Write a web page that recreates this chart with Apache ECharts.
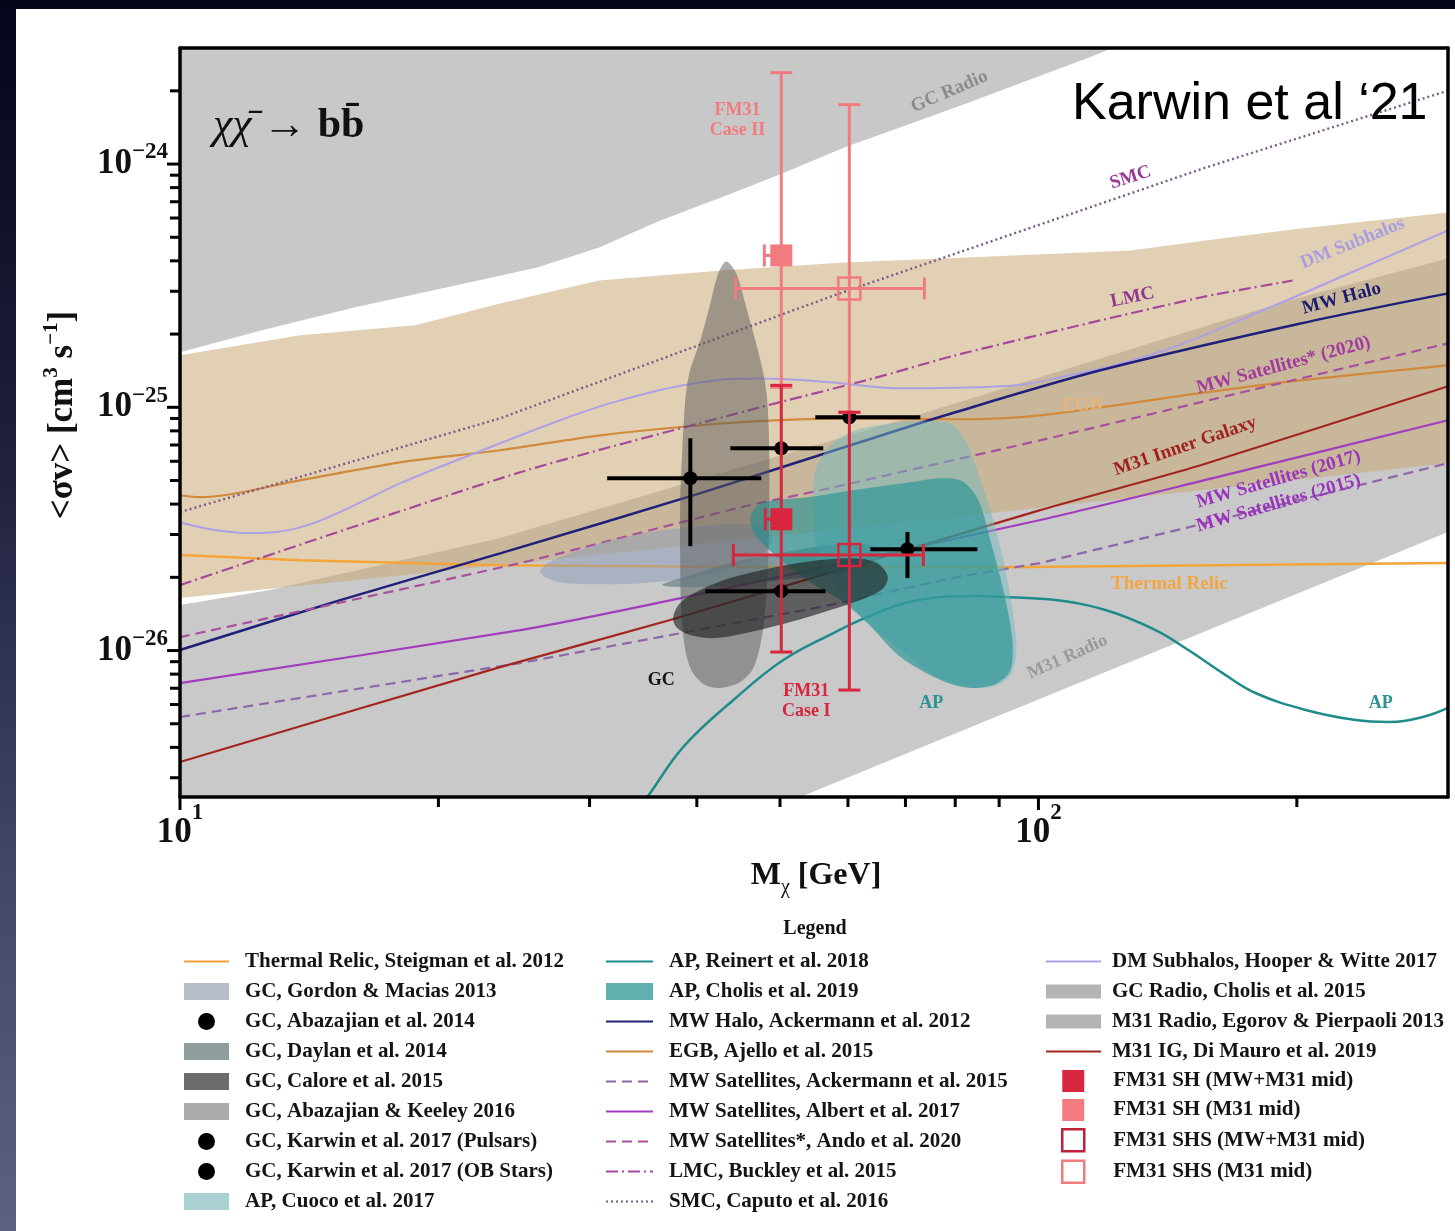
<!DOCTYPE html>
<html>
<head>
<meta charset="utf-8">
<title>Dark matter annihilation into b b̄: cross-section limits and signal regions</title>
<script src="https://cdn.jsdelivr.net/npm/echarts@6.0.0/dist/echarts.min.js"></script>
<style>
  html, body { margin: 0; padding: 0; }
  body {
    width: 1455px; height: 1231px; overflow: hidden; position: relative;
    background: linear-gradient(180deg, #05051a 0%, #1c1e3b 35%, #474a6b 75%, #5d6081 100%);
  }
  #panel { position: absolute; left: 16px; top: 9px; right: 0; bottom: 0; background: #fff; }
  #chart { position: absolute; left: 0; top: 0; width: 1455px; height: 1231px; }
</style>
</head>
<body>
<div id="panel"></div>
<div id="chart"></div>
<script>
// ---------------------------------------------------------------------------
// Values: dark-matter mass in GeV, <σv> in units of 1e-26 cm^3 s^-1
// ---------------------------------------------------------------------------
const U = 1e-26;
const X_MIN = 10, X_MAX = 300;
const Y_MIN = 2.5e-27, Y_MAX = 3e-24;

// axis tick positions (GeV, and 1e-26 cm^3/s)
const xTickValues = [10, 20, 30, 40, 50, 60, 70, 80, 90, 100, 200];
const yTickValues = [0.3, 0.4, 0.5, 0.6, 0.7, 0.8, 0.9, 1, 2, 3, 4, 5, 6, 7, 8, 9,
                     10, 20, 30, 40, 50, 60, 70, 80, 90, 100, 200];

// limit curves
const thermalRelic = [[10, 2.47], [13.8, 2.35], [23.6, 2.24], [52.8, 2.20], [90.3, 2.20], [300, 2.29]];
const egbLine = [[10, 4.35], [10.55, 4.27], [13.8, 5.01], [18.05, 5.94], [23.6, 6.66], [30.9, 7.67],
                 [40.4, 8.44], [50, 8.85], [60.4, 9.01], [80, 8.93], [100.5, 9.27], [156.6, 11.52],
                 [202, 12.91], [300, 14.88]];
const dmSubhalos = [[10, 3.37], [10.98, 3.13], [12.07, 3.04], [13.8, 3.21], [15.78, 3.88], [18.05, 4.87],
                    [22.98, 6.85], [27.73, 8.85], [32.57, 10.68], [40.4, 12.67], [47.4, 13.15],
                    [57.24, 12.67], [69.1, 11.97], [90.3, 12.2], [104.7, 13.15], [136.9, 16.67],
                    [179.0, 24.3], [234.2, 36.5], [300, 53.3]];
const mwHalo = [[10, 1.005], [15.37, 1.612], [23.6, 2.51], [40.4, 4.44], [60.4, 6.98], [80, 9.54],
                [118.1, 14.19], [202, 22.1], [300, 29.4]];
const mwSat2015 = [[10, 0.533], [24.91, 0.888], [55.7, 1.509], [80, 2.0], [100.5, 2.29], [149.5, 3.21], [300, 5.89]];
const mwSat2017 = [[10, 0.735], [24.91, 1.214], [38.3, 1.643], [100.5, 3.44], [154.5, 4.97], [300, 8.85]];
const mwSat2020 = [[10, 1.136], [24.91, 2.29], [44.96, 3.88], [55.7, 4.56], [100.5, 7.32], [176.6, 11.74], [300, 18.32]];
const m31InnerGalaxy = [[10, 0.348], [23.6, 0.855], [37.25, 1.335], [100.5, 3.78], [154.5, 5.78], [300, 12.2]];
const lmc = [[10, 1.858], [24.91, 5.41], [47.4, 10.0], [64.22, 13.15], [80, 16.35], [118.1, 22.77],
             [156.6, 28.57], [197.7, 33.2]];
const smc = [[10, 3.71], [23.6, 9.01], [57.7, 28.8], [156.6, 96.7], [300, 200.4]];
const apReinert = [[33.9, 0.217], [35.03, 0.25], [38.58, 0.402], [44.12, 0.626], [50.44, 0.914], [57.7, 1.18],
                   [63.19, 1.373], [72.28, 1.612], [85.6, 1.675], [91.5, 1.659], [104.7, 1.612], [119.7, 1.467],
                   [136.9, 1.214], [149.5, 1.005], [163.9, 0.808], [179.0, 0.669], [204.8, 0.570],
                   [234.2, 0.518], [255.8, 0.509], [280.3, 0.533], [300, 0.581]];

// bands (lower / upper edges)
const gcRadioLower = [[10, 16.82], [12.46, 20.72], [15.95, 25.75], [20.42, 31.1], [26.07, 37.6], [30.78, 45.4],
                      [36.26, 58.6], [42.7, 72.9], [50.3, 91.4], [59.4, 116.9], [70.0, 143.9], [82.4, 177.3],
                      [97.1, 220.3], [114.4, 273.7], [128.0, 321.5]];
const gcRadioUpper = [[10, 1000], [300, 1000]];
const m31RadioUpper = [[10, 1.538], [12.73, 1.772], [23.6, 2.90], [69.1, 8.85], [195.6, 27.5], [300, 40.9]];
const m31RadioLower = [[10, 0.1], [40.4, 0.17], [52.8, 0.25], [90.3, 0.543], [300, 3.07]];
const egbBandUpper = [[10, 16.35], [13.8, 19.76], [18.79, 21.72], [23.6, 26.74], [30.78, 33.2], [42.7, 36.5],
                      [59.4, 39.4], [82.4, 41.3], [128.0, 44.15], [156.6, 48.5], [202, 54.3], [300, 63.2]];
const egbBandLower = [[10, 1.643], [23.6, 2.24], [90.3, 3.71], [300, 5.89]];

// signal regions (closed outlines)
const gcGordonMacias = [[26.28, 2.101], [26.85, 2.29], [28.48, 2.51], [30.86, 2.764], [35.31, 3.07], [40.37, 3.246],
                        [44.95, 3.308], [48.06, 3.185], [48.97, 2.843], [47.42, 2.47], [43.76, 2.182],
                        [39.31, 1.985], [34.37, 1.893], [30.05, 1.875], [27.36, 1.929]];
const gcDaylan = [[36.46, 1.858], [39.31, 2.04], [43.76, 2.29], [50.03, 2.51], [57.24, 2.713], [63.71, 2.713],
                  [65.44, 2.47], [62.03, 2.20], [55.72, 2.04], [47.42, 1.911], [40.37, 1.823]];
const gcCalore = [[37.55, 1.373], [38.26, 1.567], [40.37, 1.772], [43.76, 1.985], [48.71, 2.182], [54.24, 2.331],
                  [60.38, 2.398], [64.57, 2.309], [66.69, 2.04], [65.98, 1.806], [62.87, 1.643], [57.24, 1.467],
                  [51.40, 1.309], [46.17, 1.191], [42.03, 1.125], [39.31, 1.158], [37.85, 1.249]];
const gcAbazajianKeeley = [[43.29, 39.79], [42.37, 35.51], [41.36, 25.75], [40.37, 18.85], [39.20, 13.79],
                           [38.78, 10.68], [38.47, 6.66], [38.26, 4.15], [38.26, 2.35], [38.36, 1.467],
                           [38.78, 1.005], [39.52, 0.816], [40.92, 0.721], [42.60, 0.702], [44.71, 0.735],
                           [46.42, 0.832], [47.42, 1.053], [48.06, 1.467], [48.45, 2.35], [48.58, 4.15],
                           [48.58, 6.66], [48.32, 10.68], [47.81, 13.79], [46.79, 18.85], [45.68, 25.75],
                           [44.47, 35.51]];
const apCuoco = [[54.68, 4.15], [54.97, 5.51], [57.24, 6.98], [61.19, 8.04], [66.41, 8.51], [72.86, 8.76],
                 [78.96, 8.60], [82.19, 7.32], [84.43, 5.78], [87.89, 3.78], [91.02, 2.35], [93.26, 1.467],
                 [94.27, 1.005], [92.76, 0.793], [89.08, 0.715], [84.43, 0.702], [78.96, 0.735], [73.85, 0.832],
                 [69.06, 1.005], [63.71, 1.273], [59.58, 1.612], [56.48, 2.14], [54.97, 2.843]];
const apCholis = [[46.17, 3.535], [47.17, 3.96], [49.36, 4.15], [53.80, 4.27], [58.79, 4.48], [64.22, 4.69],
                  [70.93, 4.92], [76.88, 5.11], [81.54, 4.97], [85.12, 4.15], [87.89, 2.843], [91.02, 1.772],
                  [93.26, 1.104], [92.76, 0.832], [89.08, 0.728], [83.31, 0.702], [76.88, 0.757], [69.06, 0.940],
                  [63.19, 1.297], [58.79, 1.612], [53.80, 1.947], [49.10, 2.51], [46.79, 2.98]];

// best-fit points: [mass, <σv>, mass low, mass high, <σv> low, <σv> high]
const gcAbazajian2014 = [[39.31, 5.11, 31.45, 47.55, 2.686, 7.46]];
const gcKarwinPulsars = [[50.17, 6.785, 43.76, 56.15, 6.785, 6.785],
                         [50.17, 1.755, 40.92, 56.48, 1.755, 1.755]];
const gcKarwinOBStars = [[60.22, 9.10, 54.97, 72.86, 9.10, 9.10],
                         [70.38, 2.611, 63.71, 84.89, 1.985, 3.07]];
const fm31ShMwM31 = [[50.17, 3.467, 48.06, 50.17, 0.986, 12.31]];
const fm31ShM31 = [[50.17, 42.1, 47.94, 50.17, 12.08, 237.6]];
const fm31ShsMwM31 = [[60.22, 2.47, 44.12, 73.45, 0.688, 9.54]];
const fm31ShsM31 = [[60.22, 30.8, 44.4, 73.65, 9.54, 175.5]];

// ---------------------------------------------------------------------------
const FONT = '"Liberation Serif", "Times New Roman", Times, serif';
const scale = pts => pts.map(([m, s]) => [m, s * U]);
const isDecade = v => Math.abs(Math.log10(v) - Math.round(Math.log10(v))) < 1e-6;

// in-plot curve labels, anchored in data space
const notes = [
  { text: 'GC Radio', m: 78.75, s: 198.5, rot: 23, color: '#8c8c8c', size: 19 },
  { text: 'FM31\nCase II', m: 44.6, s: 150.9, rot: 0, color: '#f07c80', size: 18 },
  { text: 'SMC', m: 128, s: 88.0, rot: 18, color: '#963a96', size: 19 },
  { text: 'DM Subhalos', m: 232.3, s: 47.2, rot: 22, color: '#a99fe0', size: 19 },
  { text: 'LMC', m: 128.7, s: 28.3, rot: 12, color: '#8e3a8e', size: 19 },
  { text: 'MW Halo', m: 225.5, s: 28.0, rot: 15, color: '#1c1c6c', size: 19 },
  { text: 'MW Satellites* (2020)', m: 193.0, s: 14.88, rot: 15, color: '#a23aa0', size: 19 },
  { text: 'EGB', m: 112.5, s: 10.19, rot: 4, color: '#e5b57e', size: 19 },
  { text: 'M31 Inner Galaxy', m: 148.3, s: 6.92, rot: 19, color: '#a01f1f', size: 19 },
  { text: 'MW Satellites (2017)', m: 190.4, s: 5.06, rot: 16, color: '#9b33bd', size: 19 },
  { text: 'MW Satellites (2015)', m: 190.4, s: 4.03, rot: 16, color: '#9b33bd', size: 19 },
  { text: 'Thermal Relic', m: 142.1, s: 1.875, rot: 0, color: '#f2a640', size: 19 },
  { text: 'M31 Radio', m: 108.1, s: 0.94, rot: 24, color: '#9a9a9a', size: 18 },
  { text: 'AP', m: 250.4, s: 0.609, rot: 0, color: '#2a9494', size: 18 },
  { text: 'AP', m: 75.0, s: 0.609, rot: 0, color: '#2a9494', size: 18 },
  { text: 'GC', m: 36.36, s: 0.757, rot: 0, color: '#111111', size: 18 },
  { text: 'FM31\nCase I', m: 53.66, s: 0.62, rot: 0, color: '#d7263d', size: 18 }
];

function areaSeries(name, outline, fill, z, smooth) {
  const pts = scale(outline);
  return {
    type: 'custom', name, z, silent: true, clip: true,
    coordinateSystem: 'cartesian2d',
    itemStyle: { color: fill },
    data: [pts[0]],
    renderItem: (params, api) => ({
      type: 'polygon',
      shape: { points: pts.map(p => api.coord(p)), smooth: smooth || 0 },
      style: { fill: fill }
    })
  };
}

function bandSeries(name, lower, upper, fill, z) {
  return areaSeries(name, lower.concat(upper.slice().reverse()), fill, z, 0);
}

function curveSeries(name, pts, color, width, type, smooth) {
  return {
    type: 'line', name, z: 3, silent: true, symbol: 'none', showSymbol: false,
    smooth: smooth || false, clip: true,
    lineStyle: { color, width, type: type || 'solid' },
    itemStyle: { color },
    emphasis: { disabled: true },
    data: scale(pts)
  };
}

function errorSeries(name, rows, look) {
  return {
    type: 'custom', name, z: look.z, silent: true, coordinateSystem: 'cartesian2d',
    itemStyle: { color: look.color },
    encode: { x: 0, y: 1 },
    data: rows.map(r => [r[0], r[1] * U, r[2], r[3], r[4] * U, r[5] * U]),
    renderItem: (params, api) => {
      const m = api.value(0), s = api.value(1);
      const c = api.coord([m, s]);
      const xl = api.coord([api.value(2), s])[0];
      const xr = api.coord([api.value(3), s])[0];
      const yl = api.coord([m, api.value(4)])[1];
      const yh = api.coord([m, api.value(5)])[1];
      const st = { stroke: look.color, lineWidth: look.width };
      const kids = [];
      const seg = (x1, y1, x2, y2) => kids.push({ type: 'line', shape: { x1, y1, x2, y2 }, style: st });
      const cap = look.cap;
      if (Math.abs(xl - c[0]) > 1) { seg(xl, c[1], c[0], c[1]); if (cap) seg(xl, c[1] - cap, xl, c[1] + cap); }
      if (Math.abs(xr - c[0]) > 1) { seg(c[0], c[1], xr, c[1]); if (cap) seg(xr, c[1] - cap, xr, c[1] + cap); }
      if (Math.abs(yl - c[1]) > 1) { seg(c[0], c[1], c[0], yl); if (cap) seg(c[0] - cap, yl, c[0] + cap, yl); }
      if (Math.abs(yh - c[1]) > 1) { seg(c[0], c[1], c[0], yh); if (cap) seg(c[0] - cap, yh, c[0] + cap, yh); }
      if (look.marker === 'dot') {
        kids.push({ type: 'circle', shape: { cx: c[0], cy: c[1], r: 7 }, style: { fill: look.color } });
      } else if (look.marker === 'filled') {
        kids.push({ type: 'rect', shape: { x: c[0] - 11, y: c[1] - 11, width: 22, height: 22 }, style: { fill: look.color } });
      } else if (look.marker === 'open') {
        kids.push({ type: 'rect', shape: { x: c[0] - 11, y: c[1] - 11, width: 22, height: 22 },
                    style: { fill: 'none', stroke: look.color, lineWidth: 2.5 } });
      }
      return { type: 'group', children: kids };
    }
  };
}

function powLabel(value) {
  if (!isDecade(value)) return '';
  const n = Math.round(Math.log10(value));
  return '{b|10}{e|' + (n < 0 ? '\u2212' + (-n) : n) + '}';
}

const black = { z: 6, color: '#000', width: 4, cap: 0, marker: 'dot' };
const caseI = { z: 8, color: '#d7263d', width: 3, cap: 11 };
const caseII = { z: 7, color: '#f27b80', width: 3, cap: 11 };

const series = [
  // background bands
  bandSeries('GC Radio, Cholis et al. 2015', gcRadioLower, gcRadioUpper, '#c8c8c8', 1),
  bandSeries('M31 Radio, Egorov & Pierpaoli 2013', m31RadioLower, m31RadioUpper, '#c9c9c9', 1),
  bandSeries('EGB band', egbBandLower, egbBandUpper, 'rgba(200,166,114,0.53)', 2),

  // limit curves
  curveSeries('Thermal Relic, Steigman et al. 2012', thermalRelic, '#f3a43a', 2.5),
  curveSeries('EGB, Ajello et al. 2015', egbLine, '#d18a3c', 2.2, 'solid', 0.3),
  curveSeries('DM Subhalos, Hooper & Witte 2017', dmSubhalos, '#ada1e6', 2, 'solid', 0.4),
  curveSeries('MW Halo, Ackermann et al. 2012', mwHalo, '#20207a', 2.5, 'solid', 0.3),
  curveSeries('MW Satellites, Ackermann et al. 2015', mwSat2015, '#8e67a8', 2.2, [10, 6]),
  curveSeries('MW Satellites, Albert et al. 2017', mwSat2017, '#a23dbd', 2.2, 'solid', 0.2),
  curveSeries('MW Satellites*, Ando et al. 2020', mwSat2020, '#a8509c', 2.2, [10, 6], 0.2),
  curveSeries('LMC, Buckley et al. 2015', lmc, '#a8489c', 2.2, [12, 4, 2, 4], 0.2),
  curveSeries('SMC, Caputo et al. 2016', smc, '#7e5a88', 2.4, [2, 3]),
  curveSeries('M31 IG, Di Mauro et al. 2019', m31InnerGalaxy, '#a3261e', 2.2, 'solid', 0.2),
  curveSeries('AP, Reinert et al. 2018', apReinert, '#1f8c8c', 2.5, 'solid', 0.4),

  // signal regions
  areaSeries('GC, Gordon & Macias 2013', gcGordonMacias, 'rgba(140,155,185,0.5)', 4, 0.35),
  areaSeries('GC, Abazajian & Keeley 2016', gcAbazajianKeeley, 'rgba(90,90,90,0.5)', 4, 0.3),
  areaSeries('GC, Daylan et al. 2014', gcDaylan, 'rgba(90,120,125,0.6)', 4, 0.35),
  areaSeries('AP, Cuoco et al. 2017', apCuoco, 'rgba(115,185,190,0.5)', 4, 0.3),
  areaSeries('AP, Cholis et al. 2019', apCholis, 'rgba(30,145,145,0.6)', 4, 0.3),
  areaSeries('GC, Calore et al. 2015', gcCalore, 'rgba(30,30,30,0.62)', 4, 0.35),

  // best-fit points
  errorSeries('GC, Abazajian et al. 2014', gcAbazajian2014, black),
  errorSeries('GC, Karwin et al. 2017 (Pulsars)', gcKarwinPulsars, black),
  errorSeries('GC, Karwin et al. 2017 (OB Stars)', gcKarwinOBStars, black),
  errorSeries('FM31 SH (M31 mid)', fm31ShM31, Object.assign({ marker: 'filled' }, caseII)),
  errorSeries('FM31 SHS (M31 mid)', fm31ShsM31, Object.assign({ marker: 'open' }, caseII)),
  errorSeries('FM31 SH (MW+M31 mid)', fm31ShMwM31, Object.assign({ marker: 'filled' }, caseI)),
  errorSeries('FM31 SHS (MW+M31 mid)', fm31ShsMwM31, Object.assign({ marker: 'open' }, caseI)),

  // curve labels
  {
    type: 'custom', name: 'curve labels', z: 9, silent: true, coordinateSystem: 'cartesian2d',
    data: notes.map(n => [n.m, n.s * U]),
    renderItem: (params, api) => {
      const n = notes[params.dataIndex];
      const p = api.coord([api.value(0), api.value(1)]);
      return {
        type: 'text', x: p[0], y: p[1], rotation: n.rot * Math.PI / 180,
        style: {
          text: n.text, fill: n.color, font: 'bold ' + n.size + 'px ' + FONT,
          align: 'center', verticalAlign: 'middle', lineHeight: n.size + 2
        }
      };
    }
  },

  // tick marks on the bottom and left axes
  {
    type: 'custom', name: 'x ticks', z: 11, silent: true, clip: false, coordinateSystem: 'cartesian2d',
    data: xTickValues.map(v => [v, Y_MIN]),
    renderItem: (params, api) => {
      const p = api.coord([api.value(0), api.value(1)]);
      const len = isDecade(api.value(0)) ? 13 : 10;
      return { type: 'line', shape: { x1: p[0], y1: p[1], x2: p[0], y2: p[1] + len },
               style: { stroke: '#000', lineWidth: 3 } };
    }
  },
  {
    type: 'custom', name: 'y ticks', z: 11, silent: true, clip: false, coordinateSystem: 'cartesian2d',
    data: yTickValues.map(v => [X_MIN, v * U]),
    renderItem: (params, api) => {
      const p = api.coord([api.value(0), api.value(1)]);
      const len = isDecade(api.value(1)) ? 13 : 10;
      return { type: 'line', shape: { x1: p[0] - len, y1: p[1], x2: p[0], y2: p[1] },
               style: { stroke: '#000', lineWidth: 3 } };
    }
  }
];

const legendText = { fontFamily: FONT, fontWeight: 'bold', fontSize: 21, color: '#141414', lineHeight: 20 };
function legendBox(left, top, w, h, gap, pad, data) {
  return {
    orient: 'vertical', left, top, itemWidth: w, itemHeight: h, itemGap: gap,
    selectedMode: false, padding: 0,
    textStyle: Object.assign({ padding: [0, 0, 0, pad] }, legendText),
    data
  };
}
// line entries: show only the stroke, no marker on it
const stroke = name => ({ name, itemStyle: { color: 'rgba(0,0,0,0)', borderWidth: 0, opacity: 0 } });
const dot = name => ({ name, icon: 'circle', itemStyle: { color: '#000' } });
const swatch = (name, color) => ({ name, icon: 'rect', itemStyle: { color } });

const axisLineStyle = { show: true, onZero: false, lineStyle: { color: '#000', width: 3.5 } };
const labelRich = (lh) => ({
  b: { fontFamily: FONT, fontWeight: 'bold', fontSize: 35, lineHeight: lh, color: '#111' },
  e: { fontFamily: FONT, fontWeight: 'bold', fontSize: 23, lineHeight: 23, verticalAlign: 'top', color: '#111' }
});

const option = {
  backgroundColor: 'transparent',
  animation: false,
  grid: { left: 180, right: 7, top: 48, bottom: 434, containLabel: false, outerBoundsMode: 'none' },
  xAxis: [
    {
      type: 'log', logBase: 10, min: X_MIN, max: X_MAX, position: 'bottom', z: 10,
      axisLine: axisLineStyle, axisTick: { show: false }, splitLine: { show: false },
      minorTick: { show: false }, minorSplitLine: { show: false },
      axisLabel: { margin: 5, formatter: powLabel, rich: labelRich(61) }
    },
    {
      type: 'log', logBase: 10, min: X_MIN, max: X_MAX, position: 'top', z: 10,
      axisLine: axisLineStyle, axisTick: { show: false }, axisLabel: { show: false },
      splitLine: { show: false }
    }
  ],
  yAxis: [
    {
      type: 'log', logBase: 10, min: Y_MIN, max: Y_MAX, position: 'left', z: 10,
      axisLine: axisLineStyle, axisTick: { show: false }, splitLine: { show: false },
      minorTick: { show: false }, minorSplitLine: { show: false },
      axisLabel: { margin: 12, formatter: powLabel, rich: labelRich(46) }
    },
    {
      type: 'log', logBase: 10, min: Y_MIN, max: Y_MAX, position: 'right', z: 10,
      axisLine: axisLineStyle, axisTick: { show: false }, axisLabel: { show: false },
      splitLine: { show: false }
    }
  ],
  legend: [
    legendBox(183, 951, 45, 17, 9, 11, [
      stroke('Thermal Relic, Steigman et al. 2012'),
      swatch('GC, Gordon & Macias 2013', '#b6bdc9'),
      dot('GC, Abazajian et al. 2014'),
      swatch('GC, Daylan et al. 2014', '#909d9e'),
      swatch('GC, Calore et al. 2015', '#6c6c6c'),
      swatch('GC, Abazajian & Keeley 2016', '#ababab'),
      dot('GC, Karwin et al. 2017 (Pulsars)'),
      dot('GC, Karwin et al. 2017 (OB Stars)'),
      swatch('AP, Cuoco et al. 2017', '#a9d1d2')
    ]),
    legendBox(605, 951, 47, 17, 9, 11, [
      stroke('AP, Reinert et al. 2018'),
      swatch('AP, Cholis et al. 2019', '#62b1b1'),
      stroke('MW Halo, Ackermann et al. 2012'),
      stroke('EGB, Ajello et al. 2015'),
      stroke('MW Satellites, Ackermann et al. 2015'),
      stroke('MW Satellites, Albert et al. 2017'),
      stroke('MW Satellites*, Ando et al. 2020'),
      stroke('LMC, Buckley et al. 2015'),
      stroke('SMC, Caputo et al. 2016')
    ]),
    legendBox(1045, 951, 55, 14, 9, 6, [
      stroke('DM Subhalos, Hooper & Witte 2017'),
      swatch('GC Radio, Cholis et al. 2015', '#b4b4b4'),
      swatch('M31 Radio, Egorov & Pierpaoli 2013', '#b4b4b4'),
      stroke('M31 IG, Di Mauro et al. 2019')
    ]),
    legendBox(1061, 1070, 22, 22, 7, 24, [
      { name: 'FM31 SH (MW+M31 mid)', icon: 'rect', itemStyle: { color: '#d7263d' } },
      { name: 'FM31 SH (M31 mid)', icon: 'rect', itemStyle: { color: '#f27b80' } },
      { name: 'FM31 SHS (MW+M31 mid)', icon: 'rect',
        itemStyle: { color: '#ffffff', borderColor: '#c0203a', borderWidth: 2.5 } },
      { name: 'FM31 SHS (M31 mid)', icon: 'rect',
        itemStyle: { color: '#ffffff', borderColor: '#f07c80', borderWidth: 2.5 } }
    ])
  ],
  graphic: [
    {
      type: 'text', x: 1072, y: 105, z: 20, silent: true,
      style: { text: 'Karwin et al \u201821', font: '52px "Liberation Sans", Arial, Helvetica, sans-serif',
               fill: '#000', align: 'left', verticalAlign: 'middle' }
    },
    {
      type: 'text', x: 213, y: 126, z: 20, silent: true,
      style: {
        text: '{c|\u03c7\u03c7\u0304}{a| \u2192 }{b|bb\u0304}',
        align: 'left', verticalAlign: 'middle',
        rich: {
          c: { font: 'italic 44px ' + FONT, fill: '#111', lineHeight: 50 },
          a: { font: '44px ' + FONT, fill: '#111', lineHeight: 50 },
          b: { font: 'bold 42px ' + FONT, fill: '#111', lineHeight: 50 }
        }
      }
    },
    {
      type: 'text', x: 63, y: 415, rotation: Math.PI / 2, z: 20, silent: true,
      style: {
        text: '{n|<\u03c3v> [cm}{p|3}{n| s}{p|\u22121}{n|]}',
        align: 'center', verticalAlign: 'middle',
        rich: {
          n: { font: 'bold 35px ' + FONT, fill: '#111', lineHeight: 44 },
          p: { font: 'bold 21px ' + FONT, fill: '#111', lineHeight: 18, verticalAlign: 'top' }
        }
      }
    },
    {
      type: 'text', x: 816, y: 876, z: 20, silent: true,
      style: {
        text: '{m|M}{s|\u03c7}{m| [GeV]}',
        align: 'center', verticalAlign: 'middle',
        rich: {
          m: { font: 'bold 32px ' + FONT, fill: '#111', lineHeight: 44 },
          s: { font: '20px ' + FONT, fill: '#111', lineHeight: 20, verticalAlign: 'bottom' }
        }
      }
    },
    {
      type: 'text', x: 815, y: 929, z: 20, silent: true,
      style: { text: 'Legend', font: 'bold 20px ' + FONT, fill: '#111', align: 'center', verticalAlign: 'middle' }
    }
  ],
  series
};

const chart = echarts.init(document.getElementById('chart'), null, { renderer: 'canvas' });
chart.setOption(option);
</script>
</body>
</html>
